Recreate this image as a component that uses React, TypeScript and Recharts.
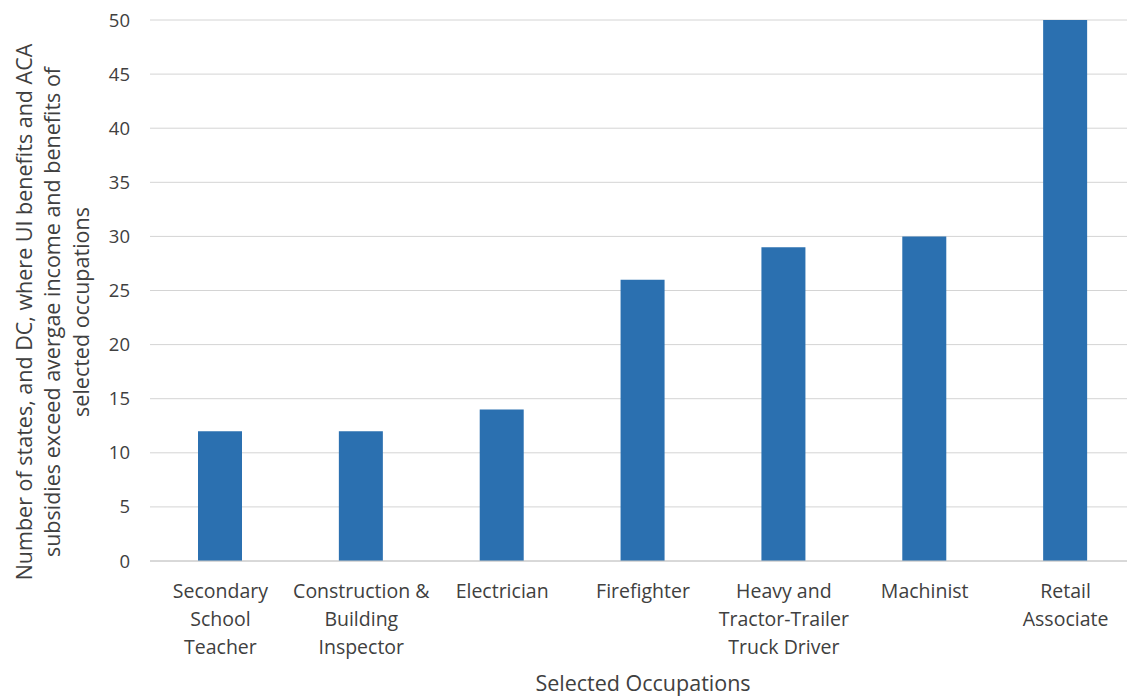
import React from 'react';
import { BarChart, Bar, XAxis, YAxis, CartesianGrid, Label } from 'recharts';

// occupations (x categories) and counts of states + DC
const occupations = [
  'Secondary School Teacher',
  'Construction & Building Inspector',
  'Electrician',
  'Firefighter',
  'Heavy and Tractor-Trailer Truck Driver',
  'Machinist',
  'Retail Associate',
];
const tickLines = [
  ['Secondary', 'School', 'Teacher'],
  ['Construction &', 'Building', 'Inspector'],
  ['Electrician'],
  ['Firefighter'],
  ['Heavy and', 'Tractor-Trailer', 'Truck Driver'],
  ['Machinist'],
  ['Retail', 'Associate'],
];
const counts = [12, 12, 14, 26, 29, 30, 50];
const yTicks = [0, 5, 10, 15, 20, 25, 30, 35, 40, 45, 50];
const yTitle = [
  'Number of states, and DC, where UI benefits and ACA',
  'subsidies exceed avergae income and benefits of',
  'selected occupations',
];
const xTitle = 'Selected Occupations';

const data = occupations.map((name, i) => ({ name, value: counts[i] }));

const FONT = '"Open Sans", "DejaVu Sans", sans-serif';
const TEXT = '#404040';

const XTick = (props: any) => {
  const { x, y, index } = props;
  const lines = tickLines[index] || [];
  return (
    <text x={x} y={y} textAnchor="middle" fill={TEXT} fontSize={19.5} fontFamily={FONT}>
      {lines.map((l, i) => (
        <tspan key={i} x={x} y={y + 37 + i * 28}>{l}</tspan>
      ))}
    </text>
  );
};

const YTitle = () => {
  const cy = 312;
  return (
    <g>
      {yTitle.map((t, i) => {
        const cx = 23 + i * 28.5;
        return (
          <text key={i} x={cx} y={cy} transform={`rotate(-90, ${cx}, ${cy})`} textAnchor="middle"
            dominantBaseline="central" fill={TEXT} fontSize={21.5} fontFamily={FONT}>
            {t}
          </text>
        );
      })}
    </g>
  );
};

const XTitle = (props: any) => {
  const vb = props.viewBox || {};
  return (
    <text x={643} y={vb.y + 130} textAnchor="middle" fill={TEXT} fontSize={21.5} fontFamily={FONT}>
      {xTitle}
    </text>
  );
};

export default function App() {
  return (
    <div style={{ position: 'absolute', left: 0, top: 0, width: 1127, height: 696, overflow: 'hidden', background: '#fff' }}>
      <BarChart width={1145} height={696} data={data} margin={{ top: 20, right: 9, left: 0, bottom: 0 }}>
        <CartesianGrid vertical={false} stroke="#d4d4d4" strokeWidth={1} />
        <XAxis dataKey="name" interval={0} height={135} tickLine={false} tickSize={0} tickMargin={0}
          axisLine={{ stroke: '#c8c8c8' }} tick={<XTick />}>
          <Label content={<XTitle />} />
        </XAxis>
        <YAxis domain={[0, 50]} ticks={yTicks} width={150} axisLine={false} tickLine={false}
          tickSize={0} tickMargin={20}
          tick={{ fill: TEXT, fontSize: 18.5, fontFamily: FONT }}>
          <Label content={<YTitle />} />
        </YAxis>
        <Bar dataKey="value" fill="#2B70B0" barSize={44} isAnimationActive={false} />
      </BarChart>
    </div>
  );
}
